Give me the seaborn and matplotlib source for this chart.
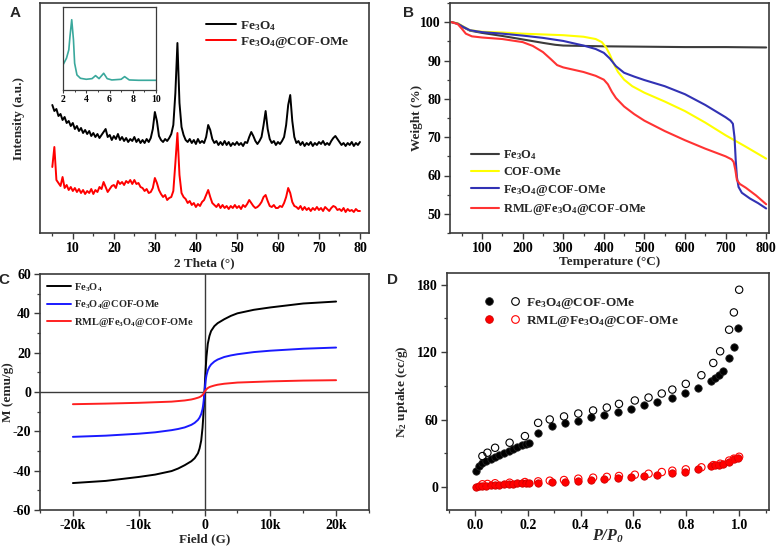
import numpy as np
import matplotlib
matplotlib.use("Agg")
import matplotlib.pyplot as plt
import seaborn as sns
from matplotlib.lines import Line2D
from matplotlib.legend_handler import HandlerTuple
from matplotlib.ticker import MultipleLocator, FuncFormatter

# ---------------------------------------------------------------
# A. XRD (0.5 deg steps from 5 to 80)
# ---------------------------------------------------------------
xrd_theta = np.arange(5.0, 80.01, 0.5)
xrd_fe3o4 = [
    128, 122, 124, 117, 119, 113, 116, 110, 112, 107,
    110, 104, 107, 102, 105, 100, 103, 99, 102, 97,
    100, 96, 99, 95, 98, 101, 104, 96, 98, 93,
    97, 94, 99, 93, 96, 92, 95, 91, 94, 92,
    96, 91, 94, 90, 93, 90, 94, 91, 95, 104,
    121, 112, 97, 93, 91, 94, 92, 95, 99, 108,
    140, 190, 130, 106, 98, 93, 91, 94, 90, 93,
    89, 94, 90, 92, 90, 96, 108, 103, 94, 90,
    92, 88, 91, 88, 92, 88, 91, 87, 90, 88,
    91, 88, 90, 87, 91, 90, 96, 101, 97, 92,
    89, 92, 96, 108, 122, 104, 94, 90, 92, 88,
    91, 89, 92, 96, 108, 128, 138, 112, 96, 90,
    92, 88, 91, 87, 90, 88, 91, 87, 90, 88,
    91, 89, 92, 88, 90, 88, 92, 95, 97, 94,
    91, 88, 90, 87, 90, 88, 91, 87, 90, 88,
    91,
]
xrd_cof = [
    66, 86, 53, 50, 47, 56, 45, 48, 43, 46,
    42, 45, 41, 44, 40, 43, 39, 42, 40, 44,
    39, 43, 41, 46, 44, 51, 46, 41, 44, 47,
    48, 45, 52, 49, 51, 48, 52, 50, 53, 49,
    53, 49, 50, 46, 45, 42, 44, 40, 41, 45,
    55, 50, 43, 39, 36, 38, 33, 35, 36, 42,
    70, 100, 58, 40, 36, 34, 30, 32, 28, 30,
    26, 29, 27, 31, 33, 38, 43, 36, 30, 28,
    26, 29, 25, 28, 25, 27, 24, 27, 25, 28,
    25, 27, 24, 28, 26, 29, 33, 30, 27, 25,
    26, 28, 31, 36, 38, 32, 27, 26, 28, 25,
    25, 27, 26, 30, 36, 45, 40, 31, 27, 26,
    24, 27, 23, 26, 23, 25, 22, 25, 23, 26,
    23, 25, 22, 26, 24, 22, 25, 27, 26, 23,
    24, 22, 25, 21, 24, 22, 23, 21, 24, 22,
    22,
]

# inset: low-angle COF pattern
inset_theta = [2.0, 2.3, 2.5, 2.6, 2.75, 2.9, 3.0, 3.2, 3.5, 4.0, 4.5, 4.8,
               5.1, 5.5, 5.8, 6.2, 7.0, 7.3, 7.7, 8.5, 10.0]
inset_int = [75, 95, 120, 160, 210, 150, 80, 45, 35, 32, 34, 43,
             34, 50, 34, 30, 32, 40, 30, 29, 29]

# ---------------------------------------------------------------
# B. TGA
# ---------------------------------------------------------------
t_fe3o4 = [25, 40, 55, 70, 100, 150, 200, 250, 280, 300, 350, 400, 500, 600, 700, 800]
w_fe3o4 = [100, 99.6, 98.6, 97.8, 97.2, 96.4, 95.5, 94.6, 94.1, 93.9, 93.8, 93.7,
           93.6, 93.5, 93.5, 93.4]

t_cof = [25, 40, 55, 70, 100, 150, 200, 250, 300, 350, 380, 395, 405, 415, 425,
         435, 450, 470, 500, 550, 600, 650, 700, 750, 800]
w_cof = [100, 99.7, 98.8, 97.9, 97.5, 97.3, 97.0, 96.8, 96.6, 96.2, 95.6, 94.8,
         93.5, 91.5, 89.0, 87.0, 85.0, 83.3, 81.6, 79.3, 76.8, 73.8, 70.5, 67.5, 64.4]

t_fecof = [25, 40, 55, 70, 100, 150, 200, 250, 300, 350, 380, 400, 415, 430, 450,
           475, 500, 550, 600, 650, 700, 712, 718, 722, 725, 728, 732, 740, 760, 780, 800]
w_fecof = [100, 99.6, 98.7, 97.9, 97.4, 97.0, 96.5, 95.9, 95.1, 93.9, 93.0, 92.0,
           90.5, 88.5, 86.8, 85.8, 84.9, 83.3, 81.2, 78.4, 75.2, 74.3, 73.5, 70.0,
           64.0, 59.5, 57.0, 55.5, 54.0, 52.8, 51.4]

t_rml = [25, 40, 50, 60, 75, 100, 150, 200, 225, 250, 270, 285, 300, 350, 380, 400,
         410, 420, 430, 450, 475, 500, 550, 600, 650, 700, 715, 720, 724, 728, 735,
         750, 775, 800]
w_rml = [100, 99.5, 98.3, 97.0, 96.3, 96.0, 95.6, 94.8, 93.8, 92.2, 90.3, 88.8,
         88.2, 87.0, 86.0, 85.0, 83.8, 81.8, 80.2, 78.0, 76.0, 74.3, 71.6, 69.2,
         67.0, 65.0, 64.2, 63.5, 61.5, 58.8, 57.8, 56.8, 54.8, 52.5]

# ---------------------------------------------------------------
# C. Magnetization loops
# ---------------------------------------------------------------
field = [-20000, -15000, -10000, -7500, -5000, -4000, -3000, -2000, -1500, -1000,
         -750, -500, -300, -200, -100, 0, 100, 200, 300, 500, 750, 1000, 1500,
         2000, 3000, 4000, 5000, 7500, 10000, 15000, 20000]
m_fe3o4 = [-46.3, -45.2, -43.2, -42.0, -40.2, -38.9, -37.2, -35.2, -33.7, -31.2,
           -28.7, -24.7, -18.2, -13.2, -7.2, 0, 7.0, 13.0, 18.0, 24.5, 28.5, 31.0,
           33.5, 35.0, 37.0, 38.7, 40.0, 41.8, 43.0, 45.0, 46.0]
m_fecof = [-22.8, -22.2, -21.2, -20.5, -19.4, -18.8, -18.0, -16.7, -15.7, -14.2,
           -13.0, -11.2, -8.7, -6.6, -3.6, 0, 3.5, 6.5, 8.5, 11.0, 12.8, 14.0,
           15.5, 16.5, 17.8, 18.6, 19.2, 20.3, 21.0, 22.0, 22.6]
m_rml = [-6.2, -5.9, -5.5, -5.2, -4.9, -4.6, -4.3, -3.8, -3.4, -2.9,
         -2.6, -2.1, -1.5, -1.1, -0.6, 0, 0.5, 1.0, 1.4, 2.0, 2.5, 2.8,
         3.3, 3.7, 4.2, 4.5, 4.8, 5.1, 5.4, 5.8, 6.0]

# ---------------------------------------------------------------
# D. N2 isotherms
# ---------------------------------------------------------------
p_ads = [0.003, 0.015, 0.028, 0.043, 0.06, 0.076, 0.09, 0.11, 0.13, 0.144, 0.16,
         0.177, 0.192, 0.205, 0.24, 0.29, 0.34, 0.39, 0.44, 0.49, 0.54, 0.59, 0.64,
         0.69, 0.745, 0.795, 0.845, 0.893, 0.909, 0.924, 0.939, 0.962, 0.98, 0.996]
ads_fecof = [14.2, 18.6, 21.0, 23.0, 25.0, 27.0, 28.7, 30.5, 32.3, 33.7, 35.5,
             37.0, 38.2, 39.4, 47.7, 54.2, 57.1, 58.6, 62.2, 64.5, 66.9, 69.6,
             72.8, 75.8, 79.6, 83.8, 88.5, 94.7, 97.1, 100.0, 103.6, 114.8, 124.6, 141.5]
ads_rml = [0.3, 0.6, 0.9, 1.2, 1.5, 1.8, 2.1, 2.4, 2.7, 3.0, 3.3, 3.5, 3.6, 3.7,
           3.9, 4.4, 4.7, 5.0, 6.2, 6.8, 7.7, 8.6, 9.5, 10.7, 12.1, 13.6, 15.7,
           18.6, 19.2, 19.8, 20.7, 22.5, 24.6, 26.0]

p_des = [1.0, 0.98, 0.962, 0.928, 0.902, 0.857, 0.798, 0.747, 0.707, 0.657, 0.605,
         0.545, 0.499, 0.447, 0.391, 0.337, 0.283, 0.239, 0.189, 0.131, 0.076,
         0.047, 0.028]
des_fecof = [175.6, 155.4, 140.0, 120.8, 110.4, 99.5, 91.8, 86.7, 83.2, 79.6, 77.0,
             74.0, 70.7, 68.1, 65.4, 62.8, 60.1, 57.1, 45.3, 39.4, 34.9, 30.5, 27.5]
des_rml = [26.9, 25.2, 23.5, 20.7, 19.5, 17.5, 15.7, 14.5, 13.3, 11.8, 10.9,
           9.8, 9.0, 8.3, 7.4, 6.2, 5.6, 5.0, 4.4, 3.8, 3.3, 2.7, 2.4]

# ---------------------------------------------------------------
# style
# ---------------------------------------------------------------
sns.set_style("ticks")
plt.rcParams["font.family"] = ["Liberation Serif", "DejaVu Serif"]
plt.rcParams["font.weight"] = "bold"
plt.rcParams["axes.labelweight"] = "bold"
plt.rcParams["mathtext.default"] = "regular"
plt.rcParams["axes.unicode_minus"] = False
plt.rcParams["axes.edgecolor"] = "#3a3a3a"
plt.rcParams["axes.linewidth"] = 1.2
plt.rcParams["xtick.color"] = "#3a3a3a"
plt.rcParams["ytick.color"] = "#3a3a3a"
plt.rcParams["xtick.labelcolor"] = "black"
plt.rcParams["ytick.labelcolor"] = "black"

TICK = 10
LAB = 9.5
FE = "Fe$_3$O$_4$"
FECOF = "Fe$_3$O$_4$@COF-OMe"
RML = "RML@Fe$_3$O$_4$@COF-OMe"

fig = plt.figure(figsize=(7.78, 5.47), dpi=100)
W, H = 778.0, 547.0


def box(l, t, r, b):
    return [l / W, 1 - b / H, (r - l) / W, (b - t) / H]


def style_ticks(ax):
    ax.tick_params(which="major", direction="out", length=4, width=1, labelsize=TICK, pad=2.5)
    ax.tick_params(which="minor", direction="out", length=2.5, width=0.9)
    for s in ax.spines.values():
        s.set_visible(True)


# ---- A ----
axA = fig.add_axes(box(40, 3, 369, 233))
sns.lineplot(x=xrd_theta, y=xrd_fe3o4, ax=axA, color="black", linewidth=1.4, label=FE)
sns.lineplot(x=xrd_theta, y=xrd_cof, ax=axA, color="#ff0000", linewidth=1.4, label=FECOF)
axA.set_xlim(2, 82.2)
axA.set_ylim(0, 230)
axA.set_yticks([])
axA.set_xticks([10, 20, 30, 40, 50, 60, 70, 80])
axA.xaxis.set_minor_locator(MultipleLocator(5))
style_ticks(axA)
axA.set_xlabel("2 Theta (°)", fontsize=LAB)
axA.set_ylabel("Intensity (a.u.)", fontsize=LAB)
axA.xaxis.set_label_coords(0.5, -0.104)
axA.yaxis.set_label_coords(-0.046, 0.5)
axA.legend(loc="upper left", bbox_to_anchor=(0.505, 0.93), frameon=False, fontsize=9.5,
           handlelength=2.3, handletextpad=0.25, labelspacing=0.15, borderpad=0,
           borderaxespad=0)

axI = fig.add_axes(box(63, 7, 156, 90))
sns.lineplot(x=inset_theta, y=inset_int, ax=axI, color="#3aa89c", linewidth=1.2)
axI.set_xlim(2, 10)
axI.set_ylim(0, 248)
axI.set_yticks([])
axI.set_xticks([2, 4, 6, 8, 10])
axI.xaxis.set_minor_locator(MultipleLocator(1))
axI.tick_params(which="major", direction="out", length=2.5, width=0.8, labelsize=7, pad=1)
axI.tick_params(which="minor", direction="out", length=1.5, width=0.7)
for s in axI.spines.values():
    s.set_linewidth(0.9)

# ---- B ----
axB = fig.add_axes(box(450, 3, 769, 233))
sns.lineplot(x=t_fe3o4, y=w_fe3o4, ax=axB, color="#3c3c3c", linewidth=1.5, label=FE)
sns.lineplot(x=t_cof, y=w_cof, ax=axB, color="#ffff00", linewidth=1.5, label="COF-OMe")
sns.lineplot(x=t_fecof, y=w_fecof, ax=axB, color="#3232b4", linewidth=1.5, label=FECOF)
sns.lineplot(x=t_rml, y=w_rml, ax=axB, color="#ff3333", linewidth=1.5, label=RML)
axB.set_xlim(21, 807)
axB.set_ylim(45, 105)
axB.set_xticks(range(100, 801, 100))
axB.xaxis.set_minor_locator(MultipleLocator(50))
axB.set_yticks(range(50, 101, 10))
axB.yaxis.set_minor_locator(MultipleLocator(5))
style_ticks(axB)
axB.set_xlabel("Temperature (°C)", fontsize=LAB)
axB.set_ylabel("Weight (%)", fontsize=LAB)
axB.xaxis.set_label_coords(0.5, -0.1)
axB.yaxis.set_label_coords(-0.085, 0.5)
axB.legend(loc="lower left", bbox_to_anchor=(0.065, 0.07), frameon=False, fontsize=9,
           handlelength=2.3, handletextpad=0.3, labelspacing=0.35, borderpad=0,
           borderaxespad=0)

# ---- C ----
axC = fig.add_axes(box(40, 274, 369, 510))
axC.axhline(0, color="#3a3a3a", linewidth=1.0, zorder=1)
axC.axvline(0, color="#3a3a3a", linewidth=1.0, zorder=1)
sns.lineplot(x=field, y=m_fe3o4, ax=axC, color="black", linewidth=1.4, label=FE)
sns.lineplot(x=field, y=m_fecof, ax=axC, color="#1a1aff", linewidth=1.4, label=FECOF)
sns.lineplot(x=field, y=m_rml, ax=axC, color="#ff2020", linewidth=1.4, label=RML)
axC.set_xlim(-25000, 25000)
axC.set_ylim(-60, 60)
axC.set_xticks([-20000, -10000, 0, 10000, 20000])
axC.xaxis.set_major_formatter(FuncFormatter(lambda v, p: "0" if v == 0 else f"{int(v / 1000)}k"))
axC.xaxis.set_minor_locator(MultipleLocator(5000))
axC.set_yticks(range(-60, 61, 20))
axC.yaxis.set_minor_locator(MultipleLocator(10))
style_ticks(axC)
axC.set_xlabel("Field (G)", fontsize=LAB)
axC.set_ylabel("M (emu/g)", fontsize=LAB)
axC.xaxis.set_label_coords(0.5, -0.097)
axC.yaxis.set_label_coords(-0.079, 0.5)
axC.legend(loc="upper left", bbox_to_anchor=(0.022, 0.97), frameon=False, fontsize=7.5,
           handlelength=2.3, handletextpad=0.25, labelspacing=0.45, borderpad=0,
           borderaxespad=0)

# ---- D ----
axD = fig.add_axes(box(447, 273, 769, 510))
sns.scatterplot(x=p_ads, y=ads_fecof, ax=axD, color="black", s=28, edgecolor="#222222",
                linewidth=0.6, zorder=3)
sns.scatterplot(x=p_des, y=des_fecof, ax=axD, color="black", s=28, edgecolor="black",
                linewidth=0.8, zorder=3)
axD.collections[-1].set_facecolor("none")
sns.scatterplot(x=p_ads, y=ads_rml, ax=axD, color="#ff0000", s=28, edgecolor="#cc0000",
                linewidth=0.6, zorder=3)
sns.scatterplot(x=p_des, y=des_rml, ax=axD, color="#ff0000", s=28, edgecolor="#ff0000",
                linewidth=0.8, zorder=3)
axD.collections[-1].set_facecolor("none")
axD.set_xlim(-0.106, 1.113)
axD.set_ylim(-20.5, 190.5)
axD.set_xticks([0.0, 0.2, 0.4, 0.6, 0.8, 1.0])
axD.xaxis.set_minor_locator(MultipleLocator(0.1))
axD.set_yticks([0, 60, 120, 180])
axD.yaxis.set_minor_locator(MultipleLocator(30))
style_ticks(axD)
axD.set_xlabel("$P/P_0$", fontsize=11.5, fontstyle="italic")
axD.set_ylabel("N$_2$ uptake (cc/g)", fontsize=LAB)
axD.xaxis.set_label_coords(0.5, -0.075)
axD.yaxis.set_label_coords(-0.115, 0.5)

ms = 5.5
hb1 = Line2D([], [], marker="o", ls="", markersize=ms, markerfacecolor="black",
             markeredgecolor="#222222", markeredgewidth=0.6)
hb2 = Line2D([], [], marker="o", ls="", markersize=ms, markerfacecolor="none",
             markeredgecolor="black", markeredgewidth=0.8)
hr1 = Line2D([], [], marker="o", ls="", markersize=ms, markerfacecolor="#ff0000",
             markeredgecolor="#cc0000", markeredgewidth=0.6)
hr2 = Line2D([], [], marker="o", ls="", markersize=ms, markerfacecolor="none",
             markeredgecolor="#ff0000", markeredgewidth=0.8)
axD.legend([(hb1, hb2), (hr1, hr2)], [FECOF, RML],
           handler_map={tuple: HandlerTuple(ndivide=None, pad=0.9)},
           loc="upper left", bbox_to_anchor=(0.11, 0.905), frameon=False, fontsize=9.5,
           handlelength=3.0, handletextpad=0.3, labelspacing=0.25, borderpad=0,
           borderaxespad=0)

# panel letters
for lab, (px, py) in {"A": (15, 13), "B": (408, 13), "C": (4, 280), "D": (392, 280)}.items():
    fig.text(px / W, 1 - py / H, lab, family="Liberation Sans", weight="bold",
             fontsize=11, ha="center", va="center")

fig.savefig("out.png", dpi=100)
